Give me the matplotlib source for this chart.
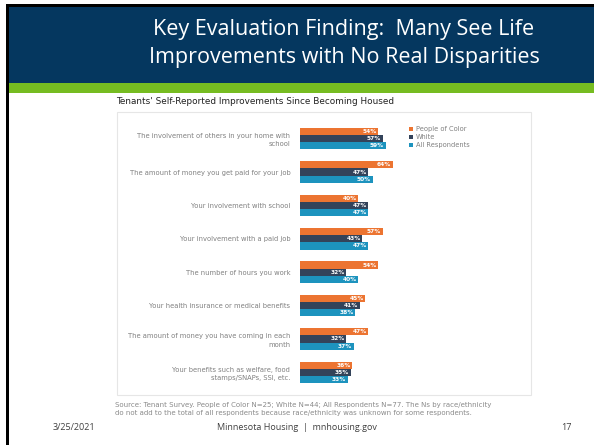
import matplotlib
matplotlib.use("Agg")
import matplotlib.pyplot as plt
from matplotlib.patches import Rectangle
import numpy as np

W, H = 594, 445
categories = [
    "The involvement of others in your home with\nschool",
    "The amount of money you get paid for your job",
    "Your involvement with school",
    "Your involvement with a paid job",
    "The number of hours you work",
    "Your health insurance or medical benefits",
    "The amount of money you have coming in each\nmonth",
    "Your benefits such as welfare, food\nstamps/SNAPs, SSI, etc.",
]
series_names = ["People of Color", "White", "All Respondents"]
people_of_color = [54, 64, 40, 57, 54, 45, 47, 36]
white = [57, 47, 47, 43, 32, 41, 32, 35]
all_respondents = [59, 50, 47, 47, 40, 38, 37, 33]
colors = ["#EC7431", "#33435A", "#1D93BE"]

title_lines = ["Key Evaluation Finding:  Many See Life", "Improvements with No Real Disparities"]
chart_title = "Tenants' Self-Reported Improvements Since Becoming Housed"
source = ("Source: Tenant Survey. People of Color N=25; White N=44; All Respondents N=77. The Ns by race/ethnicity\n"
          "do not add to the total of all respondents because race/ethnicity was unknown for some respondents.")
footer_left, footer_mid, footer_right = "3/25/2021", "Minnesota Housing  |  mnhousing.gov", "17"

fig = plt.figure(figsize=(W / 100, H / 100), dpi=100)
fig.patch.set_facecolor("white")

def fx(x): return x / W
def fy(y): return 1 - y / H

# frame / header
bg = fig.add_axes([0, 0, 1, 1])
bg.set_xlim(0, W); bg.set_ylim(H, 0); bg.axis("off")
bg.add_patch(Rectangle((6, 4), 3, H, facecolor="black", edgecolor="none"))
bg.add_patch(Rectangle((6, 4), W, 3, facecolor="black", edgecolor="none"))
bg.add_patch(Rectangle((9, 7), W, 76, facecolor="#05375F", edgecolor="none"))
bg.add_patch(Rectangle((9, 83), W, 10, facecolor="#76BC21", edgecolor="none"))
bg.text(344, 29, title_lines[0], ha="center", va="center", color="white",
        fontsize=15.5, family="Open Sans")
bg.text(344, 58, title_lines[1], ha="center", va="center", color="white",
        fontsize=15.5, family="Open Sans")

# chart panel
bg.add_patch(Rectangle((117, 112), 414, 283, facecolor="none", edgecolor="#E6E6E6", lw=0.8))
bg.text(116, 101, chart_title, ha="left", va="center", color="#222222", fontsize=6.4,
        family="DejaVu Sans")
bg.text(115, 409, source, ha="left", va="center", color="#8A8A8A", fontsize=5.0,
        family="DejaVu Sans", linespacing=1.3)
bg.text(53, 428, footer_left, ha="left", va="center", color="#404040", fontsize=6.5, family="Open Sans")
bg.text(297, 428, footer_mid, ha="center", va="center", color="#404040", fontsize=6.5, family="Open Sans")
bg.text(566, 428, footer_right, ha="center", va="center", color="#404040", fontsize=6.5, family="Open Sans")

# bars
x0, px_per = 300, 1.453
ytop, ybot = 122, 389
ax = fig.add_axes([fx(x0), fy(ybot), 100 * px_per / W, (ybot - ytop) / H])
ax.set_xlim(0, 100)
ax.set_ylim(len(categories) - 0.5, -0.5)
y = np.arange(len(categories))
bh = 0.215
for k, vals in enumerate([people_of_color, white, all_respondents]):
    pos = y + (k - 1) * bh
    ax.barh(pos, vals, height=bh, color=colors[k], label=series_names[k])
    for p, v in zip(pos, vals):
        ax.text(v - 1.2, p, f"{v}%", ha="right", va="center", color="white",
                fontsize=4.2, fontweight="bold")
ax.set_yticks(y)
ax.set_yticklabels(categories, fontsize=4.85, color="#808080", linespacing=1.45)
ax.tick_params(axis="y", length=0, pad=7)
ax.set_xticks([])
for s in ax.spines.values():
    s.set_visible(False)
ax.patch.set_alpha(0)

leg = ax.legend(loc="upper left", bbox_to_anchor=(fx(406), fy(123)),
                bbox_transform=fig.transFigure,
                frameon=False, fontsize=4.8, handlelength=0.55, handleheight=0.55,
                handletextpad=0.45, labelspacing=0.3, borderpad=0)
for t in leg.get_texts():
    t.set_color("#808080")

fig.savefig("out.png", dpi=100, facecolor="white")
